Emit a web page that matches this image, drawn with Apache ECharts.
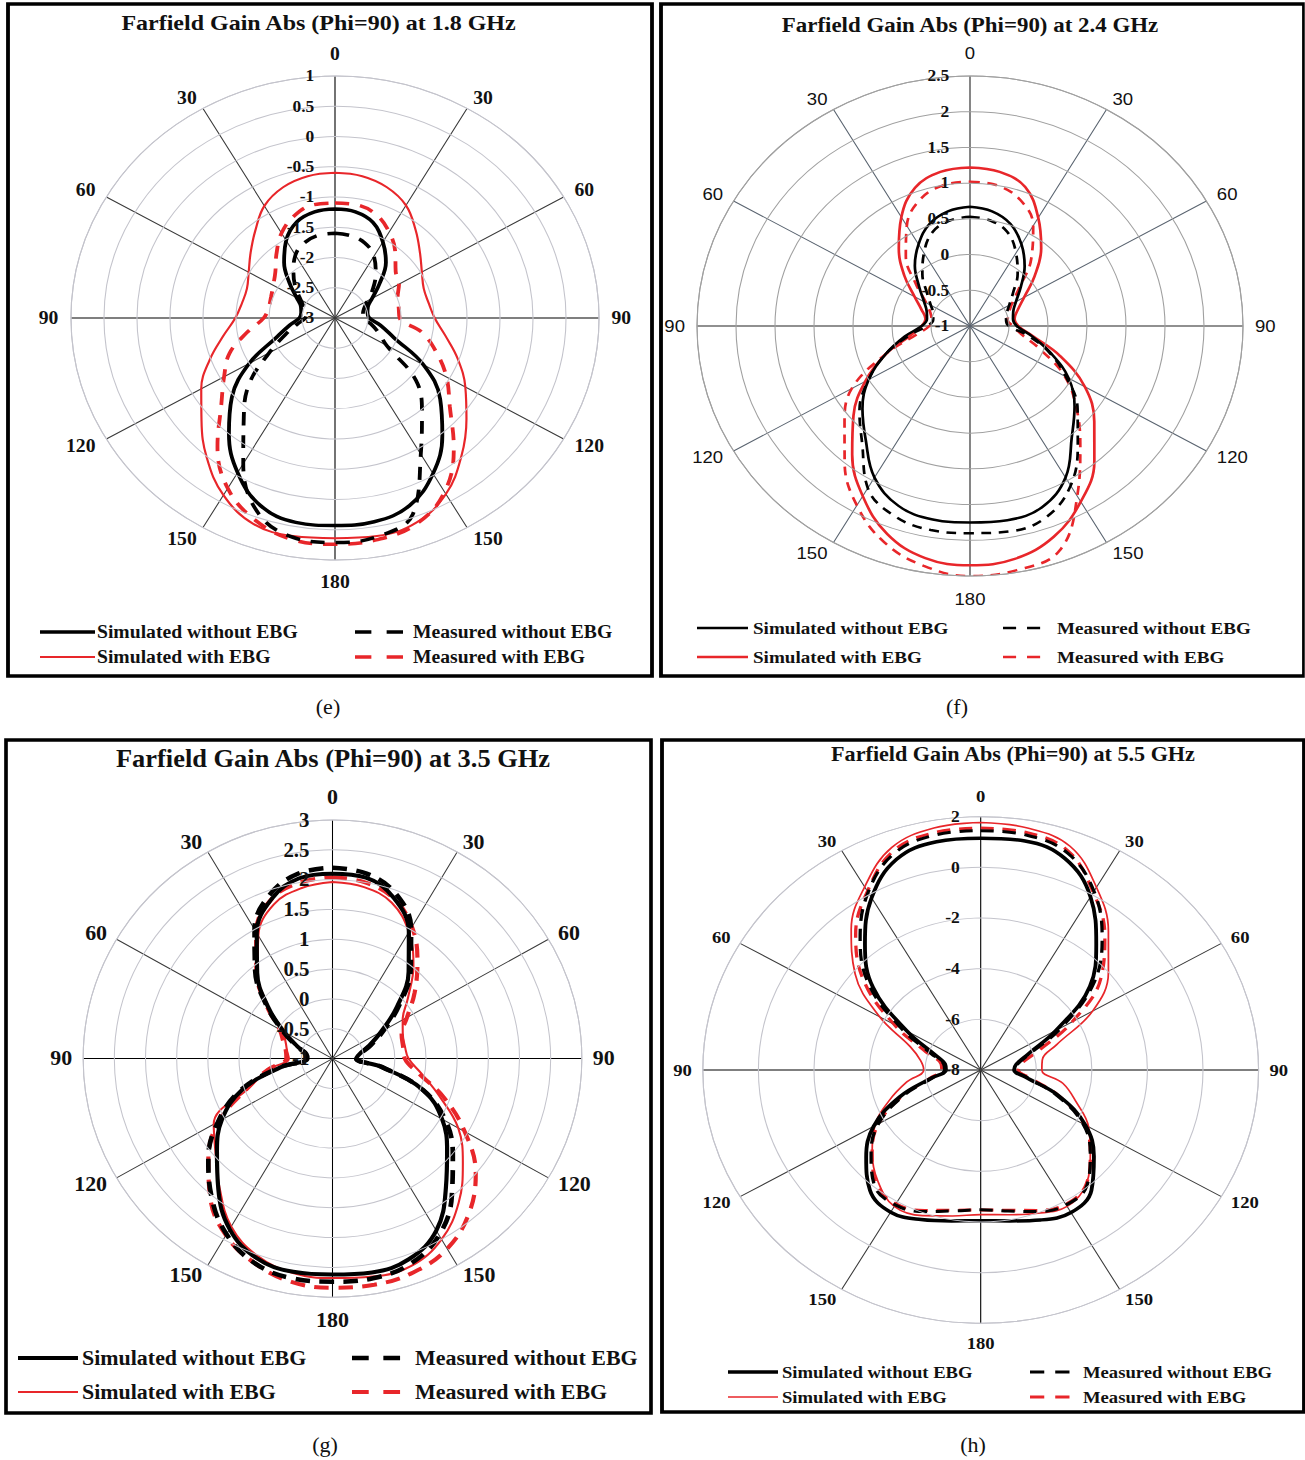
<!DOCTYPE html>
<html>
<head>
<meta charset="utf-8">
<title>Farfield Gain Abs (Phi=90)</title>
<script src="https://cdn.jsdelivr.net/npm/echarts@6/dist/echarts.min.js"></script>
<style>
  html, body { margin: 0; padding: 0; background: #fff; overflow: hidden; }
  #page { position: relative; width: 1305px; height: 1460px; }
  #captions { position: absolute; left: 0; top: 0; width: 1305px; height: 1460px; }
  .panel { position: absolute; transform-origin: 0 0; }
</style>
</head>
<body>
<div id="page">
  <div id="captions"></div>
  <div id="pe" class="panel"></div>
  <div id="pf" class="panel"></div>
  <div id="pg" class="panel"></div>
  <div id="ph" class="panel"></div>
</div>
<script>
// ---- Theta sampling (degrees, clockwise from boresight) ----
const ANGLES = [0, 10, 20, 30, 40, 50, 60, 70, 80, 90, 100, 110, 120, 130, 140, 150, 160, 170, 180,
                190, 200, 210, 220, 230, 240, 250, 260, 270, 280, 290, 300, 310, 320, 330, 340, 350, 360];

const SERIES_NAMES = ['Simulated without EBG', 'Measured without EBG', 'Simulated with EBG', 'Measured with EBG'];

// ---- Gain (dB) at 1.8 GHz ----
const simNoEBG_18 = [-1.20, -1.22, -1.32, -1.55, -1.80, -2.12, -2.35, -2.47, -2.50, -2.48, -2.30, -2.05, -1.45, -0.92, -0.47, -0.03, 0.30, 0.42, 0.43,
                     0.43, 0.30, -0.05, -0.50, -0.96, -1.50, -2.05, -2.30, -2.46, -2.48, -2.45, -2.33, -2.10, -1.80, -1.52, -1.31, -1.22, -1.20];
const measNoEBG_18 = [-1.60, -1.62, -1.68, -1.82, -2.04, -2.25, -2.43, -2.53, -2.57, -2.57, -2.45, -2.30, -2.10, -1.40, -0.95, -0.40, 0.45, 0.67, 0.71,
                      0.68, 0.42, -0.22, -0.85, -1.30, -1.85, -2.20, -2.42, -2.55, -2.56, -2.50, -2.40, -2.22, -2.02, -1.80, -1.67, -1.61, -1.60];
const simEBG_18 = [-0.60, -0.62, -0.70, -0.85, -1.10, -1.32, -1.48, -1.57, -1.56, -1.49, -1.30, -1.02, -0.72, -0.40, -0.02, 0.36, 0.60, 0.66, 0.64,
                   0.66, 0.62, 0.38, 0.02, -0.36, -0.66, -0.98, -1.28, -1.49, -1.57, -1.58, -1.49, -1.33, -1.12, -0.86, -0.70, -0.62, -0.60];
const measEBG_18 = [-1.10, -1.10, -1.18, -1.36, -1.58, -1.80, -1.88, -1.99, -2.02, -2.02, -1.67, -1.37, -1.05, -0.73, -0.20, 0.32, 0.62, 0.72, 0.74,
                    0.72, 0.55, 0.25, -0.23, -0.75, -1.06, -1.30, -1.65, -1.92, -1.98, -1.97, -1.92, -1.82, -1.62, -1.38, -1.20, -1.10, -1.10];

// ---- Gain (dB) at 2.4 GHz ----
const simNoEBG_24 = [0.67, 0.63, 0.52, 0.32, 0.09, -0.15, -0.32, -0.41, -0.44, -0.40, -0.20, 0.10, 0.46, 0.75, 1.03, 1.45, 1.70, 1.76, 1.75,
                     1.75, 1.68, 1.45, 1.08, 0.80, 0.50, 0.15, -0.15, -0.38, -0.44, -0.41, -0.32, -0.15, 0.10, 0.32, 0.52, 0.63, 0.67];
const measNoEBG_24 = [0.53, 0.50, 0.40, 0.18, -0.05, -0.28, -0.42, -0.50, -0.53, -0.50, -0.25, 0.08, 0.42, 0.80, 1.15, 1.58, 1.85, 1.92, 1.90,
                      1.90, 1.83, 1.62, 1.15, 0.85, 0.50, 0.15, -0.20, -0.45, -0.52, -0.50, -0.42, -0.28, -0.05, 0.18, 0.40, 0.50, 0.53];
const simEBG_24 = [1.22, 1.19, 1.07, 0.75, 0.42, 0.08, -0.20, -0.35, -0.42, -0.38, -0.18, 0.23, 0.70, 1.08, 1.48, 1.84, 2.14, 2.31, 2.35,
                   2.30, 2.10, 1.75, 1.35, 0.95, 0.55, 0.15, -0.22, -0.38, -0.42, -0.34, -0.18, 0.10, 0.42, 0.76, 1.06, 1.19, 1.22];
const measEBG_24 = [1.02, 1.00, 0.88, 0.62, 0.22, -0.18, -0.38, -0.47, -0.51, -0.45, -0.33, -0.04, 0.40, 0.78, 1.20, 1.75, 2.35, 2.47, 2.50,
                    2.41, 2.22, 1.90, 1.50, 1.10, 0.75, 0.15, -0.30, -0.48, -0.50, -0.46, -0.35, -0.10, 0.28, 0.62, 0.88, 1.00, 1.02];

// ---- Gain (dB) at 3.5 GHz ----
const simNoEBG_35 = [2.10, 2.08, 1.87, 1.45, 0.90, 0.35, -0.10, -0.38, -0.56, -0.62, -0.20, 0.55, 1.03, 1.40, 1.83, 2.33, 2.58, 2.64, 2.62,
                     2.63, 2.56, 2.30, 1.85, 1.42, 1.05, 0.55, -0.15, -0.60, -0.58, -0.40, -0.10, 0.35, 0.88, 1.43, 1.85, 2.07, 2.10];
const measNoEBG_35 = [2.20, 2.15, 1.95, 1.52, 0.95, 0.40, -0.05, -0.35, -0.55, -0.62, -0.20, 0.55, 1.10, 1.52, 1.98, 2.42, 2.66, 2.74, 2.74,
                      2.74, 2.65, 2.40, 2.02, 1.60, 1.12, 0.58, -0.12, -0.58, -0.56, -0.38, -0.08, 0.38, 0.93, 1.50, 1.93, 2.15, 2.20];
const simEBG_35 = [1.96, 1.92, 1.78, 1.45, 1.02, 0.58, 0.30, 0.20, 0.18, 0.22, 0.45, 0.82, 1.33, 1.73, 2.15, 2.50, 2.70, 2.71, 2.68,
                   2.65, 2.52, 2.25, 1.82, 1.45, 1.20, 0.42, 0.05, -0.30, -0.26, -0.20, -0.08, 0.35, 0.87, 1.38, 1.75, 1.90, 1.96];
const measEBG_35 = [2.04, 2.00, 1.86, 1.55, 1.12, 0.72, 0.38, 0.18, 0.15, 0.16, 0.40, 0.90, 1.45, 2.00, 2.40, 2.68, 2.81, 2.85, 2.84,
                    2.80, 2.65, 2.42, 2.05, 1.60, 1.10, 0.45, 0.05, -0.26, -0.24, -0.16, -0.02, 0.38, 0.90, 1.45, 1.85, 2.00, 2.04];

// ---- Gain (dB) at 5.5 GHz ----
const simNoEBG_55 = [1.15, 1.18, 0.88, -0.10, -1.53, -2.87, -4.86, -6.20, -6.70, -6.80, -6.35, -5.00, -3.65, -2.68, -1.80, -1.50, -1.70, -1.95, -2.05,
                     -1.95, -1.72, -1.52, -1.80, -2.62, -3.55, -4.90, -6.20, -6.75, -6.70, -6.25, -4.95, -2.95, -1.52, -0.15, 0.85, 1.15, 1.15];
const measNoEBG_55 = [1.45, 1.42, 1.12, 0.15, -1.20, -2.70, -4.65, -6.10, -6.65, -6.75, -6.30, -5.10, -3.75, -2.85, -2.05, -1.85, -2.05, -2.35, -2.48,
                      -2.35, -2.05, -1.85, -2.05, -2.85, -3.75, -5.05, -6.25, -6.70, -6.65, -6.10, -4.70, -2.75, -1.25, 0.10, 1.10, 1.42, 1.45];
const simEBG_55 = [1.77, 1.70, 1.40, 0.33, -0.85, -2.00, -3.35, -5.10, -5.75, -5.80, -5.00, -4.35, -3.52, -2.85, -2.10, -1.78, -1.98, -2.20, -2.29,
                   -2.15, -1.88, -1.78, -2.25, -2.90, -3.60, -4.50, -5.30, -5.95, -5.80, -5.30, -3.80, -2.10, -0.75, 0.35, 1.35, 1.70, 1.77];
const measEBG_55 = [1.55, 1.52, 1.20, 0.10, -1.05, -2.35, -4.20, -5.80, -6.50, -6.65, -6.20, -5.00, -3.70, -2.85, -2.10, -1.88, -2.10, -2.38, -2.47,
                    -2.38, -2.10, -1.90, -2.15, -2.90, -3.75, -5.00, -6.15, -6.60, -6.55, -5.90, -4.40, -2.50, -1.00, 0.15, 1.20, 1.52, 1.55];

// ---- Panel layout and styling ----
const RED = '#e8262a';
const SERIF = '"Liberation Serif", "Times New Roman", serif';
const SANS = '"Liberation Sans", Arial, sans-serif';

const PANELS = [
  {
    el: 'pe', region: [0, 0, 655, 692], k: 1.091,
    box: [8, 4, 652, 676], cx: 335, cy: 318, ry: 242,
    min: -3, max: 1, step: 0.5,
    title: { text: 'Farfield Gain Abs (Phi=90) at 1.8 GHz', x: 318.5, y: 22, size: 22 },
    angleFont: { family: SERIF, weight: 'bold', size: 18, margin: 11.5, poleGap: 21 },
    radiusFont: { size: 16, margin: 19 },
    ringColor: '#c4c4cc', spokeColor: '#3a3a3a', axisColor: '#000',
    values: [simNoEBG_18, measNoEBG_18, simEBG_18, measEBG_18],
    styles: [
      { color: '#000', width: 3.5, type: 'solid' },
      { color: '#000', width: 3.5, type: [13, 10] },
      { color: RED, width: 2, type: 'solid' },
      { color: RED, width: 3.5, type: [13, 10] }
    ],
    legend: { rows: [632, 657], line1: [40, 95], text1: 97, line2: [355, 405], text2: 413, size: 18, weight: 'bold', dash: [15, 14] }
  },
  {
    el: 'pf', region: [655, 0, 1305, 692], k: 1.092,
    box: [661, 4, 1304, 676], cx: 970, cy: 326, ry: 250,
    min: -1, max: 2.5, step: 0.5,
    title: { text: 'Farfield Gain Abs (Phi=90) at 2.4 GHz', x: 970, y: 25, size: 21 },
    angleFont: { family: SANS, weight: 'normal', size: 17, margin: 11, poleGap: 24 },
    radiusFont: { size: 16, margin: 19 },
    ringColor: '#a0a0a0', spokeColor: '#5a6470', axisColor: '#222',
    values: [simNoEBG_24, measNoEBG_24, simEBG_24, measEBG_24],
    styles: [
      { color: '#000', width: 2.5, type: 'solid' },
      { color: '#000', width: 2.5, type: [9, 7] },
      { color: RED, width: 2.5, type: 'solid' },
      { color: RED, width: 2.5, type: [9, 7] }
    ],
    legend: { rows: [628, 657], line1: [697, 748], text1: 753, line2: [1003, 1045], text2: 1057, size: 17.5, weight: 'bold', dash: [12, 10] }
  },
  {
    el: 'pg', region: [0, 728, 655, 1424], k: 1.045,
    box: [6, 740, 651, 1413], cx: 332.5, cy: 1058.6, ry: 238.6,
    min: -1, max: 3, step: 0.5,
    title: { text: 'Farfield Gain Abs (Phi=90) at 3.5 GHz', x: 333, y: 759, size: 25.3 },
    angleFont: { family: SERIF, weight: 'bold', size: 21, margin: 10.5, poleGap: 25 },
    radiusFont: { size: 20, margin: 22 },
    ringColor: '#c4c4cc', spokeColor: '#3a3a3a', axisColor: '#000',
    values: [simNoEBG_35, measNoEBG_35, simEBG_35, measEBG_35],
    styles: [
      { color: '#000', width: 4, type: 'solid' },
      { color: '#000', width: 4.5, type: [14, 9] },
      { color: RED, width: 2, type: 'solid' },
      { color: RED, width: 4, type: [14, 9] }
    ],
    legend: { rows: [1358, 1392], line1: [18, 78], text1: 82, line2: [352, 405], text2: 415, size: 21, weight: 'bold', dash: [16, 14] }
  },
  {
    el: 'ph', region: [655, 728, 1305, 1424], k: 1.097,
    box: [662, 740, 1304, 1412], cx: 980.7, cy: 1070, ry: 253.3,
    min: -8, max: 2, step: 2,
    title: { text: 'Farfield Gain Abs (Phi=90) at 5.5 GHz', x: 1013, y: 754, size: 20.2 },
    angleFont: { family: SERIF, weight: 'bold', size: 17, margin: 10, poleGap: 20 },
    radiusFont: { size: 16, margin: 19 },
    ringColor: '#c4c4cc', spokeColor: '#3a3a3a', axisColor: '#000',
    values: [simNoEBG_55, measNoEBG_55, simEBG_55, measEBG_55],
    styles: [
      { color: '#000', width: 3.5, type: 'solid' },
      { color: '#000', width: 3, type: [12, 8] },
      { color: RED, width: 1.6, type: 'solid' },
      { color: RED, width: 3, type: [12, 8] }
    ],
    legend: { rows: [1372, 1397], line1: [728, 778], text1: 782, line2: [1030, 1075], text2: 1083, size: 17, weight: 'bold', dash: [13, 10] }
  }
];

// Draw order: red curves first, black on top
const DRAW_ORDER = [2, 3, 1, 0];

function buildPanel(p) {
  const el = document.getElementById(p.el);
  const [rx0, ry0, rx1, ry1] = p.region;
  el.style.left = rx0 + 'px';
  el.style.top = ry0 + 'px';
  el.style.width = ((rx1 - rx0) / p.k) + 'px';
  el.style.height = (ry1 - ry0) + 'px';
  el.style.transform = 'scaleX(' + p.k + ')';

  const lx = X => (X - rx0) / p.k;   // page x -> local x
  const ly = Y => Y - ry0;           // page y -> local y

  const chart = echarts.init(el, null, { renderer: 'svg' });

  const series = DRAW_ORDER.map(idx => {
    const st = p.styles[idx];
    return {
      name: SERIES_NAMES[idx],
      type: 'line',
      coordinateSystem: 'polar',
      data: p.values[idx].map((v, i) => [v, ANGLES[i]]),
      showSymbol: false,
      smooth: 0.4,
      silent: true,
      lineStyle: { color: st.color, width: st.width, type: st.type, cap: 'butt' }
    };
  });

  const lg = p.legend;
  const legendFont = lg.weight + ' ' + lg.size + 'px ' + SERIF;
  const legendItems = [
    { idx: 0, row: 0, line: lg.line1, tx: lg.text1 },
    { idx: 1, row: 0, line: lg.line2, tx: lg.text2 },
    { idx: 2, row: 1, line: lg.line1, tx: lg.text1 },
    { idx: 3, row: 1, line: lg.line2, tx: lg.text2 }
  ];
  const graphic = [];
  graphic.push({
    type: 'rect',
    shape: { x: lx(p.box[0]), y: ly(p.box[1]), width: (p.box[2] - p.box[0]) / p.k, height: p.box[3] - p.box[1] },
    style: { fill: 'none', stroke: '#000', lineWidth: 3.5 },
    silent: true
  });
  graphic.push({
    type: 'text',
    x: lx(p.title.x), y: ly(p.title.y),
    style: {
      text: p.title.text, fill: '#111',
      font: 'bold ' + p.title.size + 'px ' + SERIF,
      align: 'center', verticalAlign: 'middle'
    },
    silent: true
  });
  legendItems.forEach(it => {
    const st = p.styles[it.idx];
    const y = ly(lg.rows[it.row]);
    graphic.push({
      type: 'line',
      shape: { x1: lx(it.line[0]), y1: y, x2: lx(it.line[1]), y2: y },
      style: {
        stroke: st.color, lineWidth: st.width,
        lineDash: st.type === 'solid' ? null : lg.dash
      },
      silent: true
    });
    graphic.push({
      type: 'text',
      x: lx(it.tx), y: y,
      style: {
        text: SERIES_NAMES[it.idx], fill: '#111', font: legendFont,
        align: 'left', verticalAlign: 'middle'
      },
      silent: true
    });
  });

  // Angle labels: compact line box so each label sits centred on its anchor;
  // the 0 and 180 labels get a taller box to clear the outer ring.
  const af = p.angleFont;
  const labelRich = {
    s: { lineHeight: 2, fontFamily: af.family, fontWeight: af.weight, fontSize: af.size, color: '#111' },
    t: { lineHeight: af.poleGap, fontFamily: af.family, fontWeight: af.weight, fontSize: af.size, color: '#111' }
  };

  chart.setOption({
    animation: false,
    polar: { center: [lx(p.cx), ly(p.cy)], radius: p.ry },
    angleAxis: {
      type: 'value', min: 0, max: 360, interval: 30,
      startAngle: 90, clockwise: true,
      axisLine: { show: true, lineStyle: { color: p.ringColor, width: 1 } },
      axisTick: { show: false },
      axisLabel: {
        margin: af.margin,
        color: '#111',
        fontFamily: af.family,
        fontWeight: af.weight,
        fontSize: af.size,
        rich: labelRich,
        formatter: v => {
          if (v >= 360) return '';
          const shown = v <= 180 ? v : 360 - v;
          const key = (v === 0 || v === 180) ? 't' : 's';
          return '{' + key + '|' + shown + '}';
        }
      },
      splitLine: { show: true, lineStyle: { color: [p.axisColor, p.spokeColor, p.spokeColor], width: 1 } }
    },
    radiusAxis: {
      type: 'value', min: p.min, max: p.max, interval: p.step,
      axisLine: { show: false },
      axisTick: { show: false },
      axisLabel: {
        margin: p.radiusFont.margin,
        color: '#111',
        fontFamily: SERIF,
        fontWeight: 'bold',
        fontSize: p.radiusFont.size,
        showMinLabel: true,
        showMaxLabel: true
      },
      splitLine: { show: true, lineStyle: { color: p.ringColor, width: 1 } },
      z: 5
    },
    graphic: graphic,
    series: series
  });
}

PANELS.forEach(buildPanel);

// ---- Figure captions ----
const CAPTIONS = [
  { text: '(e)', x: 328, y: 706 },
  { text: '(f)', x: 957, y: 706 },
  { text: '(g)', x: 325, y: 1444 },
  { text: '(h)', x: 973, y: 1444 }
];
const capChart = echarts.init(document.getElementById('captions'), null, { renderer: 'svg' });
capChart.setOption({
  animation: false,
  graphic: CAPTIONS.map(c => ({
    type: 'text', x: c.x, y: c.y, silent: true,
    style: { text: c.text, fill: '#111', font: '22px ' + SERIF, align: 'center', verticalAlign: 'middle' }
  }))
});
</script>
</body>
</html>
